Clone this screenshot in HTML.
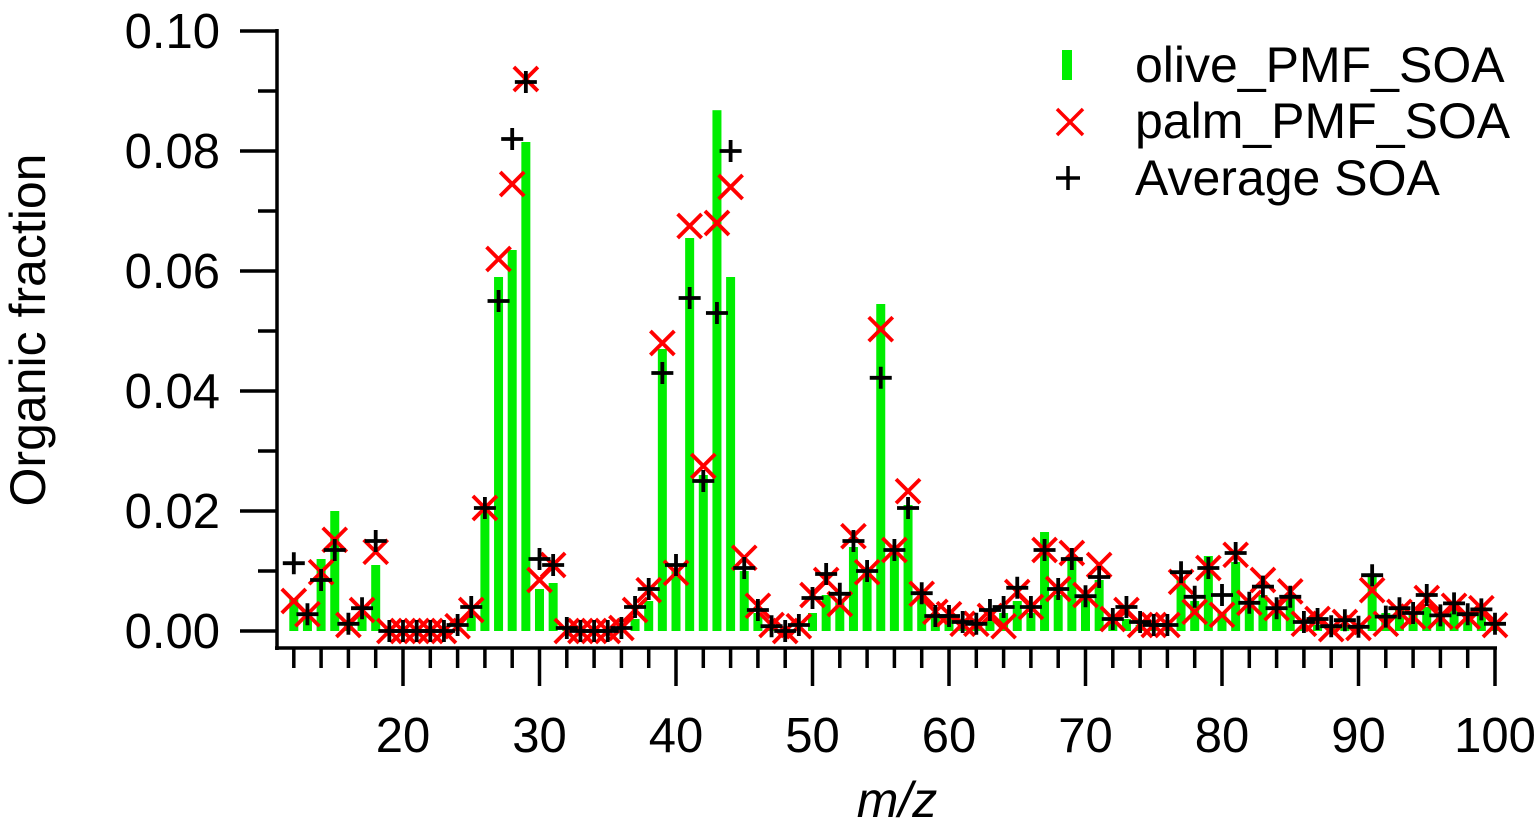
<!DOCTYPE html>
<html><head><meta charset="utf-8"><style>
html,body{margin:0;padding:0;background:#fff;}
svg{display:block;font-family:"Liberation Sans",Arial,sans-serif;}
</style></head><body>
<svg id="chart" width="1539" height="824" viewBox="0 0 1539 824">
<g id="bars"></g>
<g id="palm"></g>
<g id="avg"></g>
<g id="axes"></g>
<text x="32" y="330" font-size="50" text-anchor="middle" transform="rotate(-90 32 330)" dominant-baseline="middle">Organic fraction</text>
<text x="897" y="817" font-size="50" font-style="italic" text-anchor="middle">m/z</text>
<g>
  <rect x="1062" y="50" width="10" height="30" fill="#00ee00"/>
  <text x="1135" y="82" font-size="50">olive_PMF_SOA</text>
  <path d="M1057 109 L1083 135 M1083 109 L1057 135" stroke="#ff0000" stroke-width="3.5"/>
  <text x="1135" y="138" font-size="50">palm_PMF_SOA</text>
  <path d="M1056 178 L1080 178 M1068 166 L1068 190" stroke="#000" stroke-width="3.5"/>
  <text x="1135" y="195" font-size="50">Average SOA</text>
</g>
</svg>
<script>
const mz = [];
for (let m = 12; m <= 100; m++) mz.push(m);
const olive = [0.0055,0.003,0.012,0.020,0.001,0.003,0.011,0.0005,0.0005,0.0005,0.0005,0.0005,0.0005,0.003,0.020,0.059,0.0635,0.0815,0.007,0.008,0.0005,0.0005,0.0005,0.0005,0.001,0.002,0.005,0.047,0.010,0.0655,0.026,0.0868,0.059,0.010,0.003,0.001,0.0005,0.0005,0.003,0.006,0.005,0.014,0.010,0.0545,0.014,0.021,0.006,0.003,0.002,0.001,0.001,0.002,0.003,0.005,0.003,0.0165,0.006,0.012,0.006,0.0085,0.002,0.002,0.001,0.001,0.001,0.0088,0.005,0.0125,0.003,0.0115,0.005,0.006,0.003,0.006,0.0005,0.001,0.0005,0.001,0.0005,0.0096,0.003,0.0035,0.003,0.004,0.0025,0.004,0.003,0.004,0.001];
const palm = [0.005,0.0028,0.0098,0.0152,0.001,0.0035,0.0132,0,0,0,0,0,0.0008,0.0035,0.0205,0.062,0.0745,0.092,0.0085,0.011,0,0,0,0,0.0005,0.0035,0.0068,0.048,0.0097,0.0675,0.0275,0.068,0.074,0.0122,0.0042,0.001,0,0.0008,0.006,0.0085,0.0045,0.0158,0.0098,0.0503,0.0135,0.0233,0.0062,0.0032,0.0028,0.0012,0.0012,0.0025,0.0008,0.0065,0.004,0.0135,0.007,0.013,0.006,0.011,0.002,0.0035,0.001,0.001,0.001,0.0082,0.0032,0.0105,0.0027,0.0127,0.0047,0.0085,0.0038,0.0066,0.0012,0.002,0.0003,0.0015,0.0005,0.0068,0.0012,0.0032,0.0024,0.0055,0.0024,0.0042,0.0024,0.0038,0.001];
const avg = [0.0113,0.0028,0.0085,0.0135,0.0012,0.0038,0.015,0,0,0,0,0,0.001,0.004,0.0205,0.055,0.082,0.0915,0.012,0.011,0.0005,0,0,0,0.0005,0.004,0.007,0.043,0.011,0.0555,0.025,0.053,0.080,0.0105,0.0035,0.0008,0,0.001,0.0055,0.0095,0.0062,0.015,0.010,0.0422,0.0135,0.0205,0.0063,0.0025,0.0025,0.0015,0.0012,0.0035,0.004,0.0072,0.004,0.0135,0.007,0.012,0.0058,0.009,0.002,0.004,0.0015,0.001,0.001,0.0098,0.0057,0.0105,0.006,0.013,0.0047,0.0074,0.0038,0.0057,0.0015,0.002,0.0008,0.0018,0.0007,0.0093,0.0024,0.0038,0.003,0.006,0.0026,0.0046,0.0028,0.0036,0.0012];
const yTicks = [0, 0.02, 0.04, 0.06, 0.08, 0.10];
const yTickLabels = ["0.00","0.02","0.04","0.06","0.08","0.10"];
const xTicks = [20,30,40,50,60,70,80,90,100];

const NS = "http://www.w3.org/2000/svg";
const X = m => 403 + (m - 20) * 13.65;
const Y = v => 631 - v * 6000;
function mk(tag, attrs, parent) {
  const e = document.createElementNS(NS, tag);
  for (const k in attrs) e.setAttribute(k, attrs[k]);
  parent.appendChild(e);
  return e;
}
const gb = document.getElementById('bars'), gp = document.getElementById('palm'), ga = document.getElementById('avg'), gx = document.getElementById('axes');
mz.forEach((m, i) => {
  const b = mk('rect', {x: X(m) - 4.5, y: Y(olive[i]), width: 9, height: Math.max(0, 631 - Y(olive[i])), fill: '#00ee00'}, gb);
  
  
});
mz.forEach((m, i) => {
  const cx = X(m), cy = Y(palm[i]);
  const p = mk('path', {d: `M${cx-12} ${cy-12} L${cx+12} ${cy+12} M${cx+12} ${cy-12} L${cx-12} ${cy+12}`, stroke: '#ff0000', 'stroke-width': 3.8, fill: 'none'}, gp);
  
  
});
mz.forEach((m, i) => {
  const cx = X(m), cy = Y(avg[i]);
  const p = mk('path', {d: `M${cx-11} ${cy} L${cx+11} ${cy} M${cx} ${cy-11} L${cx} ${cy+11}`, stroke: '#000', 'stroke-width': 3.8, fill: 'none'}, ga);
  
  
});
const ya = mk('path', {d: 'M277 29 L277 650', stroke: '#000', 'stroke-width': 3.5}, gx);


const xa = mk('path', {d: 'M275 648 L1497 648', stroke: '#000', 'stroke-width': 3.5}, gx);


for (let v = 0; v <= 0.1001; v += 0.01) {
  const major = Math.round(v * 100) % 2 === 0;
  const t = mk('path', {d: `M${major ? 240 : 258} ${Y(v)} L277 ${Y(v)}`, stroke: '#000', 'stroke-width': 3.5}, gx);
  
  
}
yTicks.forEach((v, i) => {
  const t = mk('text', {x: 220, y: Y(v) + 17, 'font-size': 49, 'text-anchor': 'end'}, gx);
  t.textContent = yTickLabels[i];
  
  
});
for (let m = 12; m <= 100; m += 2) {
  const major = m % 10 === 0;
  const t = mk('path', {d: `M${X(m)} 648 L${X(m)} ${major ? 686 : 668}`, stroke: '#000', 'stroke-width': 3.5}, gx);
  
  
}
xTicks.forEach(m => {
  const t = mk('text', {x: X(m), y: 752, 'font-size': 49, 'text-anchor': 'middle'}, gx);
  t.textContent = String(m);
  
  
});
</script>
</body></html>
